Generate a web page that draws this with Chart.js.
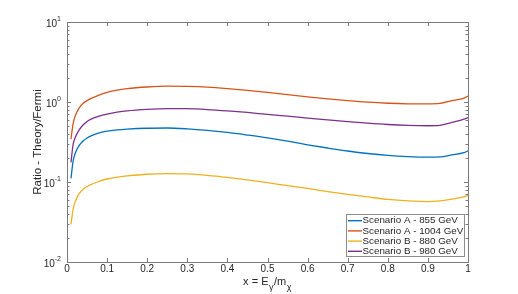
<!DOCTYPE html>
<html>
<head>
<meta charset="utf-8">
<script src="https://cdn.jsdelivr.net/npm/chart.js@4.4.1/dist/chart.umd.min.js"></script>
<style>
html,body{margin:0;padding:0;background:#fff;}
#wrap{width:518px;height:294px;position:relative;}
</style>
</head>
<body>
<div id="wrap"><canvas id="c" width="518" height="294"></canvas></div>
<script>
// ---- data ----
const xValues = [0.01,0.015,0.02,0.03,0.04,0.05,0.06,0.08,0.1,0.125,0.15,0.2,0.25,0.3,0.35,0.4,0.45,0.5,0.55,0.6,0.65,0.7,0.75,0.8,0.85,0.9,0.93,0.96,0.99,1.0];
const seriesLabels = ['Scenario A - 855 GeV','Scenario A - 1004 GeV','Scenario B - 880 GeV','Scenario B - 980 GeV'];
const seriesColors = ['#0072BD','#D95319','#EDB120','#7E2F8E'];
const scenA855 = [0.111,0.18,0.225,0.285,0.325,0.355,0.378,0.41,0.432,0.448,0.458,0.47,0.473,0.462,0.442,0.416,0.386,0.356,0.324,0.292,0.266,0.244,0.227,0.215,0.208,0.205,0.206,0.218,0.233,0.245];
const scenA1004 = [0.345,0.53,0.66,0.84,0.96,1.04,1.11,1.22,1.32,1.41,1.47,1.54,1.575,1.565,1.53,1.47,1.40,1.32,1.24,1.16,1.095,1.04,0.995,0.965,0.95,0.948,0.96,1.04,1.12,1.19];
const scenB880 = [0.0296,0.045,0.056,0.071,0.081,0.088,0.093,0.102,0.109,0.115,0.119,0.125,0.127,0.126,0.121,0.114,0.106,0.098,0.090,0.083,0.076,0.070,0.065,0.0605,0.058,0.057,0.058,0.061,0.065,0.068];
const scenB980 = [0.176,0.29,0.355,0.445,0.515,0.57,0.61,0.665,0.705,0.745,0.775,0.81,0.828,0.825,0.805,0.775,0.74,0.70,0.665,0.63,0.598,0.568,0.543,0.523,0.51,0.505,0.51,0.555,0.61,0.64];
const seriesValues = [scenA855, scenA1004, scenB880, scenB980];
const xTickValues = [0,0.1,0.2,0.3,0.4,0.5,0.6,0.7,0.8,0.9,1];
const xTickLabels = ['0','0.1','0.2','0.3','0.4','0.5','0.6','0.7','0.8','0.9','1'];
const yTickValues = [0.01,0.1,1,10];
const yTickBase = '10';
const yTickExps = ['-2','-1','0','1'];
const yTitle = 'Ratio - Theory/Fermi';
const xTitleParts = [['x = E',0],['γ',1],['/m',0],['χ',1]];

const FONT = '"Liberation Sans", Arial, Helvetica, sans-serif';
const TXT = '#262626';
const AX = '#7a7a7a';

const datasets = seriesValues.map((vals,i)=>({
  label: seriesLabels[i],
  data: xValues.map((x,j)=>({x:x,y:vals[j]})),
  borderColor: seriesColors[i],
  backgroundColor: seriesColors[i],
  borderWidth: 1.3,
  pointRadius: 0,
  cubicInterpolationMode: 'monotone',
  fill: false
}));

const decor = {
  id: 'decor',
  afterDatasetsDraw(chart){
    const ctx = chart.ctx;
    const a = chart.chartArea;
    const xs = chart.scales.x, ys = chart.scales.y;
    ctx.save();
    // box
    ctx.strokeStyle = AX; ctx.lineWidth = 1;
    ctx.strokeRect(Math.round(a.left)+0.5, Math.round(a.top)+0.5, Math.round(a.right-a.left), Math.round(a.bottom-a.top));
    ctx.beginPath();
    xTickValues.forEach(v=>{
      const px = Math.round(xs.getPixelForValue(v))+0.5;
      ctx.moveTo(px, a.bottom); ctx.lineTo(px, a.bottom-4);
      ctx.moveTo(px, a.top); ctx.lineTo(px, a.top+4);
    });
    for (let d=-2; d<1; d++){
      for (let m=1; m<=9; m++){
        const v = m*Math.pow(10,d);
        const py = Math.round(ys.getPixelForValue(v))+0.5;
        const len = (m===1)?4:2.5;
        ctx.moveTo(a.left, py); ctx.lineTo(a.left+len, py);
        ctx.moveTo(a.right, py); ctx.lineTo(a.right-len, py);
      }
    }
    ctx.stroke();
    // y tick labels with superscripts
    ctx.fillStyle = TXT;
    yTickValues.forEach((v,i)=>{
      const py = ys.getPixelForValue(v);
      ctx.font = '7px '+FONT;
      const ew = ctx.measureText(yTickExps[i]).width;
      ctx.textBaseline = 'alphabetic';
      ctx.textAlign = 'right';
      const right = a.left - 6;
      ctx.fillText(yTickExps[i], right, py-1);
      ctx.font = '10px '+FONT;
      ctx.fillText(yTickBase, right-ew, py+4.5);
    });
    // y title
    ctx.save();
    ctx.translate(38, (a.top+a.bottom)/2);
    ctx.rotate(-Math.PI/2);
    ctx.font = '11.5px '+FONT;
    ctx.textAlign = 'center'; ctx.textBaseline = 'middle';
    ctx.fillText(yTitle, 0, 0);
    ctx.restore();
    // x title with subscripts
    const mainF = '11px '+FONT, subF = '9px '+FONT;
    let total = 0;
    xTitleParts.forEach(p=>{ctx.font = p[1]?subF:mainF; total += ctx.measureText(p[0]).width + (p[1]?1:0);});
    let cx = (a.left+a.right)/2 - total/2;
    const base = 285;
    ctx.textAlign = 'left'; ctx.textBaseline = 'alphabetic';
    xTitleParts.forEach(p=>{
      ctx.font = p[1]?subF:mainF;
      ctx.fillText(p[0], cx + (p[1]?0.5:0), p[1]? base+5 : base);
      cx += ctx.measureText(p[0]).width + (p[1]?1:0);
    });
    // legend
    const lx = 346.5, ly = 214.5, lw = 118, lh = 42;
    ctx.fillStyle = '#fff';
    ctx.fillRect(lx, ly, lw, lh);
    ctx.strokeStyle = '#8c8c8c'; ctx.lineWidth = 1;
    ctx.strokeRect(lx, ly, lw, lh);
    ctx.font = '9.8px '+FONT;
    ctx.textBaseline = 'middle';
    chart.data.datasets.forEach((ds,i)=>{
      const ry = 220.7 + i*10.2;
      ctx.strokeStyle = ds.borderColor; ctx.lineWidth = 1.4;
      ctx.beginPath(); ctx.moveTo(348, ry); ctx.lineTo(362, ry); ctx.stroke();
      ctx.fillStyle = TXT;
      ctx.fillText(ds.label, 362.5, ry);
    });
    ctx.restore();
  }
};

new Chart(document.getElementById('c'), {
  type: 'line',
  data: { datasets },
  options: {
    responsive: false,
    animation: false,
    layout: { padding: { top: 22, right: 50, left: 0, bottom: 0 } },
    plugins: { legend: { display: false }, tooltip: { enabled: false } },
    scales: {
      x: {
        type: 'linear', min: 0, max: 1,
        grid: { display: false, drawTicks: false },
        border: { display: false },
        afterBuildTicks: s => { s.ticks = xTickValues.map(v=>({value:v})); },
        ticks: { autoSkip: false, maxRotation: 0, padding: 1, color: TXT,
          font: { family: FONT, size: 10 },
          callback: (v,i) => xTickLabels[i] },
        afterFit: s => { s.height = 32; }
      },
      y: {
        type: 'logarithmic', min: 0.01, max: 10,
        grid: { display: false, drawTicks: false },
        border: { display: false },
        ticks: { display: false },
        afterFit: s => { s.width = 67; }
      }
    }
  },
  plugins: [decor]
});
</script>
</body>
</html>
